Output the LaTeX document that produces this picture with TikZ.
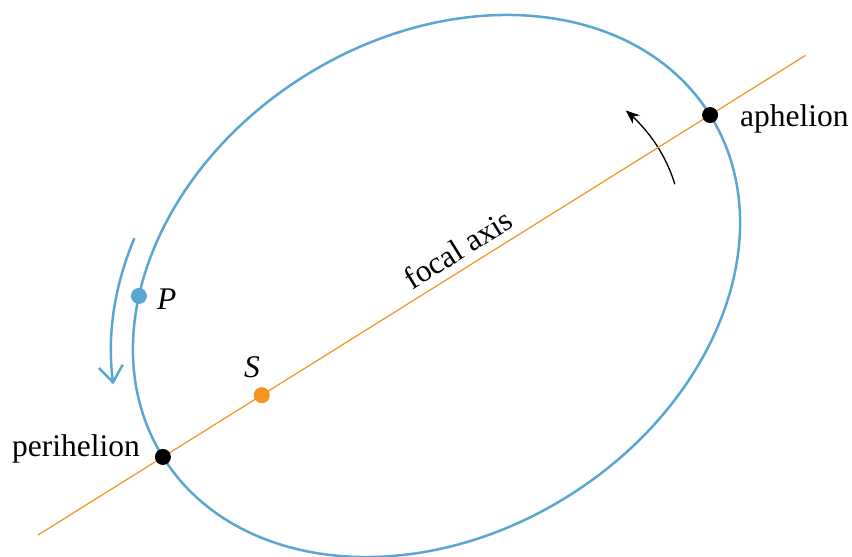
\documentclass[tikz,border=0pt]{standalone}
\usepackage{fontspec}
\setmainfont{Liberation Serif}
\usetikzlibrary{arrows.meta,calc}
\definecolor{orbitblue}{RGB}{90,166,210}
\definecolor{axisorange}{RGB}{242,148,30}
\begin{document}
\begin{tikzpicture}[x=1pt,y=1pt,
  font=\fontsize{31.5}{36}\selectfont,
  dot/.style={circle,inner sep=0pt,minimum size=16pt},
  lbl/.style={inner sep=0pt}]
\useasboundingbox (0,0) rectangle (852,557);
\coordinate (C) at (436.5,271);
\begin{scope}[shift={(C)},rotate=32]
  \draw[orbitblue,line width=2.5pt] (0,0) ellipse [x radius=322.6pt, y radius=248pt];
  \coordinate (A0) at (-470,0);
  \coordinate (A1) at (435,0);
  \coordinate (peri) at (-322.6,0);
  \coordinate (aph) at (322.6,0);
  \coordinate (sun) at (-206,0);
  \coordinate (pl) at (143:322.6pt and 248pt);
  \draw[orbitblue,line width=2.5pt,-{Straight Barb[length=16pt,width=24pt]}]
    plot[domain=132:161,samples=40,smooth] ({345*cos(\x)},{270*sin(\x)});
  \draw[black,line width=1.3pt,-{Stealth[length=14pt,width=11pt]}]
    plot[domain=-11.5:14,samples=40,smooth] ({261.3*cos(\x)},{200.9*sin(\x)});
\end{scope}
\draw[axisorange,line width=1.2pt] (A0) -- (A1);
\node[dot,fill=black] (nperi) at (peri) {};
\node[dot,fill=black] (naph) at (aph) {};
\node[dot,fill=axisorange] (nsun) at (sun) {};
\node[dot,fill=orbitblue] (npl) at (pl) {};
\node[lbl,anchor=base west] (taph) at (740,430) {aphelion};
\node[lbl,anchor=base east] (tperi) at (140,100) {perihelion};
\node[lbl,anchor=base] (tS) at (252,179) {\textit{S}};
\node[lbl,anchor=base west] (tP) at (157,247) {\textit{P}};
\node[lbl,rotate=32] (tfocal) at (458,308) {focal axis};
\end{tikzpicture}
\end{document}
